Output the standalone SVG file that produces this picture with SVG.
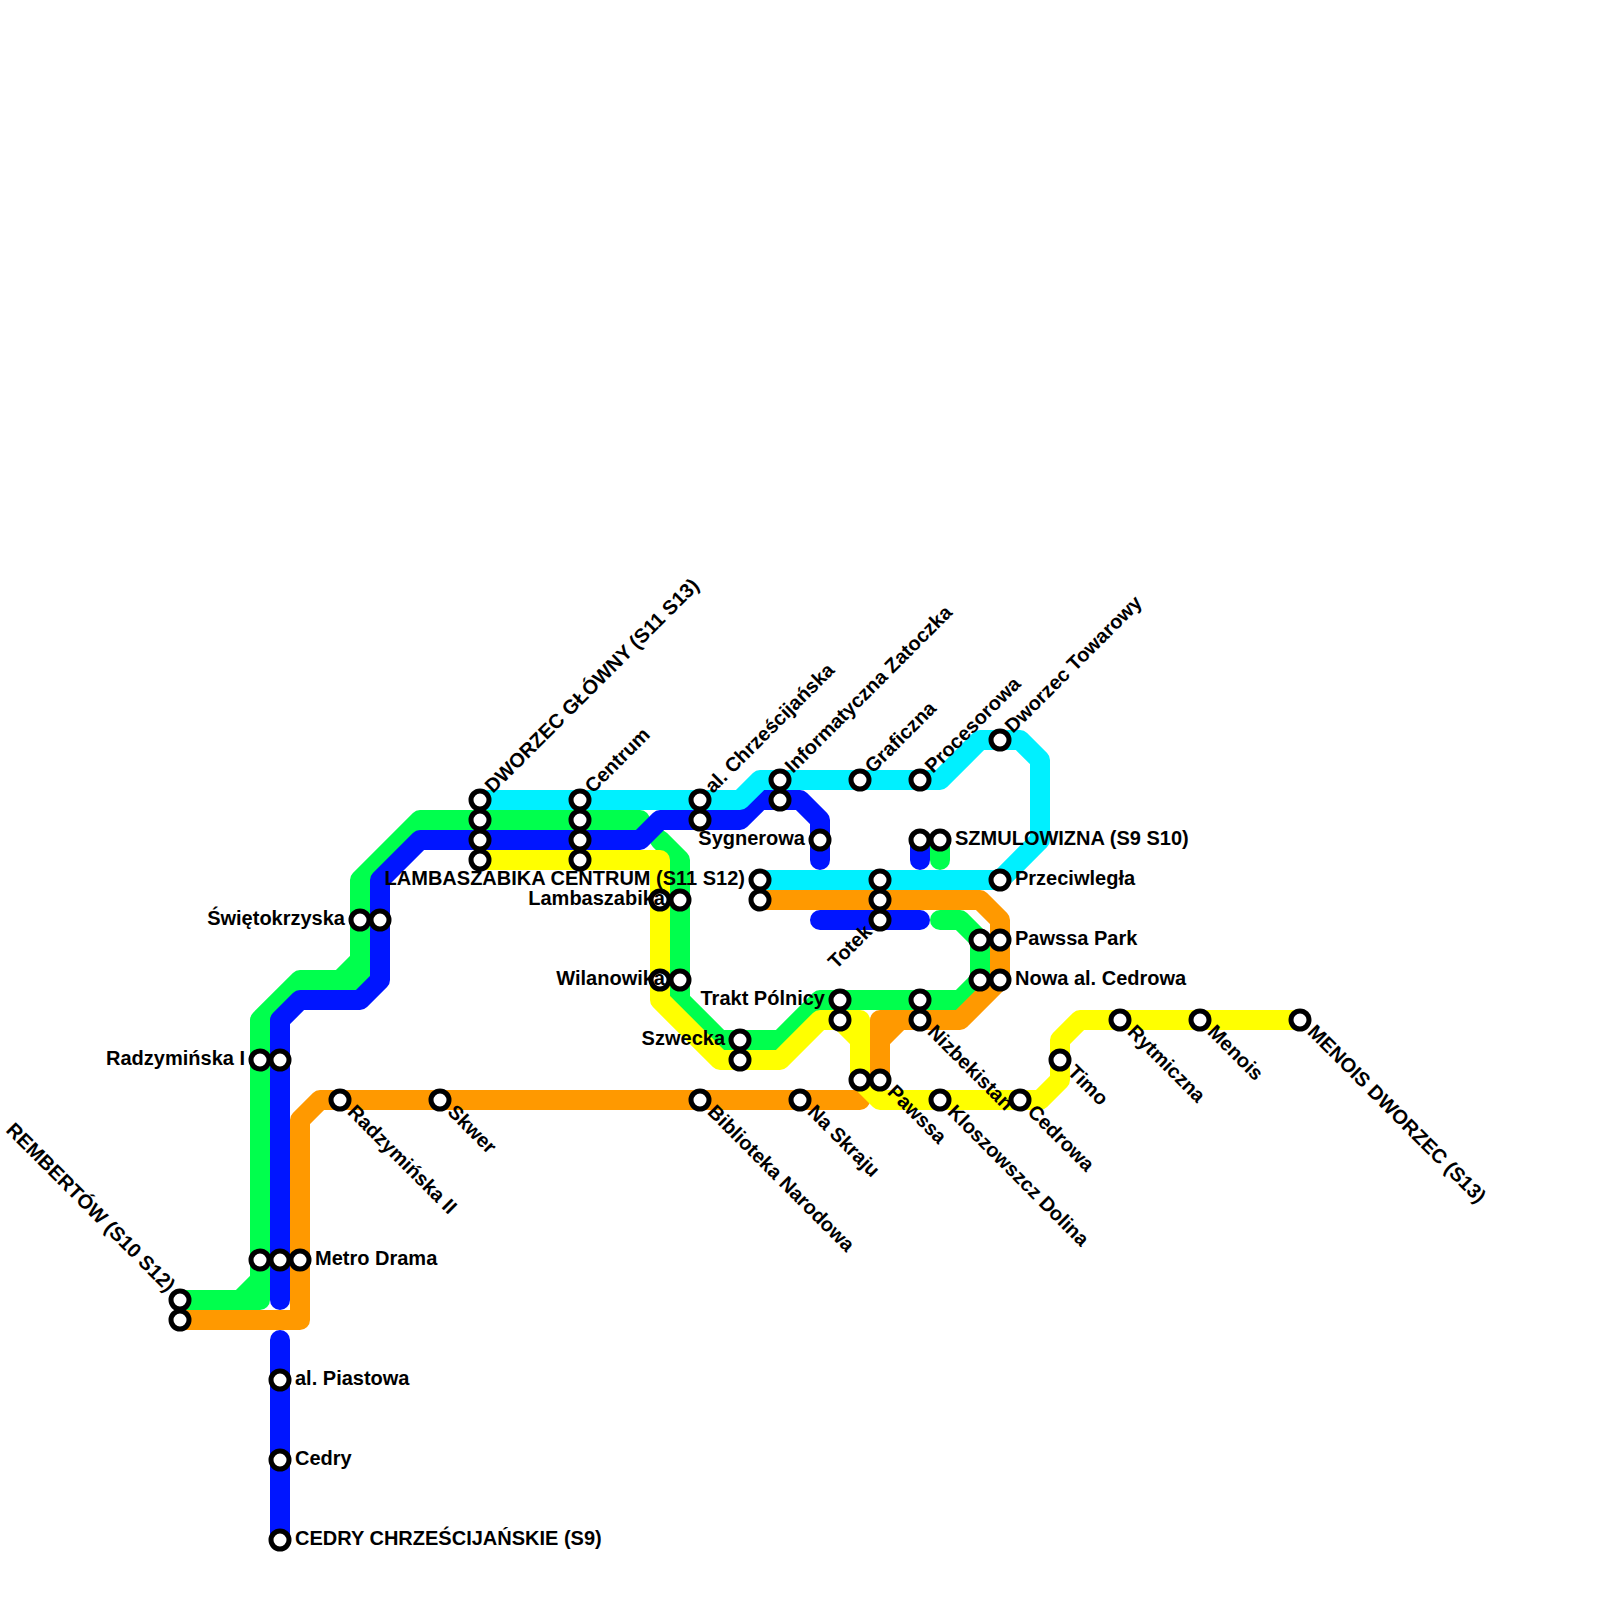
<svg xmlns="http://www.w3.org/2000/svg" width="1600" height="1600" viewBox="0 0 1600 1600">
<style>
.l{fill:none;stroke-width:20;stroke-linecap:round;stroke-linejoin:round}
.g{stroke:#00ff4d}.o{stroke:#ff9900}.b{stroke:#0015ff}.c{stroke:#00f0ff}.y{stroke:#ffff00}
.s{fill:#fff;stroke:#000;stroke-width:5}
text{font-family:"Liberation Sans",Arial,sans-serif;font-weight:700;font-size:20px;fill:#000}
.e{text-anchor:end}
</style>
<rect width="1600" height="1600" fill="#fff"/>
<g id="connectors">
<path class="l g" d="M180 1300H240L260 1280V1020L300 980H340L360 960V880L420 820H640"/>
<path class="l g" d="M240 1300H260V1280M340 980H360V960"/>
<path class="l g" d="M660 840L680 860V1000L720 1040H780L820 1000H960L980 980V940L960 920H940"/>
<path class="l g" d="M940 840V860"/>
<path class="l o" d="M180 1320H300V1120L320 1100H860"/>
<path class="l o" d="M880 1080V1040L900 1020M880 1040V1020H960L1000 980V920L980 900H760"/>
<path class="l b" d="M280 1300V1020L300 1000H360L380 980V880L420 840H640L660 820H740L760 800H800L820 820V860"/>
<path class="l b" d="M280 1340V1540M920 840V860M820 920H920"/>
<path class="l c" d="M480 800H740L760 780H940L980 740H1020L1040 760V840L1000 880H760"/>
<path class="l y" d="M480 860H660V1000L720 1060H780L820 1020H860V1080L880 1100H1040L1060 1080V1040L1080 1020H1300"/>
<path class="l y" d="M840 1020L860 1040"/>
</g>
<g id="stations">
<g id="st-rembertow"><circle class="s" cx="180" cy="1300" r="9"/><circle class="s" cx="180" cy="1320" r="9"/></g>
<g id="st-metro-drama"><circle class="s" cx="260" cy="1260" r="9"/><circle class="s" cx="280" cy="1260" r="9"/><circle class="s" cx="300" cy="1260" r="9"/></g>
<g id="st-radzyminska-1"><circle class="s" cx="260" cy="1060" r="9"/><circle class="s" cx="280" cy="1060" r="9"/></g>
<g id="st-swietokrzyska"><circle class="s" cx="360" cy="920" r="9"/><circle class="s" cx="380" cy="920" r="9"/></g>
<g id="st-dworzec"><circle class="s" cx="480" cy="800" r="9"/><circle class="s" cx="480" cy="820" r="9"/><circle class="s" cx="480" cy="840" r="9"/><circle class="s" cx="480" cy="860" r="9"/></g>
<g id="st-centrum"><circle class="s" cx="580" cy="800" r="9"/><circle class="s" cx="580" cy="820" r="9"/><circle class="s" cx="580" cy="840" r="9"/><circle class="s" cx="580" cy="860" r="9"/></g>
<g id="st-chrzescijanska"><circle class="s" cx="700" cy="800" r="9"/><circle class="s" cx="700" cy="820" r="9"/></g>
<g id="st-informatyczna"><circle class="s" cx="780" cy="780" r="9"/><circle class="s" cx="780" cy="800" r="9"/></g>
<g id="st-graficzna"><circle class="s" cx="860" cy="780" r="9"/></g>
<g id="st-procesorowa"><circle class="s" cx="920" cy="780" r="9"/></g>
<g id="st-dworzec-towarowy"><circle class="s" cx="1000" cy="740" r="9"/></g>
<g id="st-sygnerowa"><circle class="s" cx="820" cy="840" r="9"/></g>
<g id="st-szmulowizna"><circle class="s" cx="920" cy="840" r="9"/><circle class="s" cx="940" cy="840" r="9"/></g>
<g id="st-przeciwlegla"><circle class="s" cx="1000" cy="880" r="9"/></g>
<g id="st-lambaszabika-centrum"><circle class="s" cx="760" cy="880" r="9"/><circle class="s" cx="760" cy="900" r="9"/></g>
<g id="st-totek"><circle class="s" cx="880" cy="880" r="9"/><circle class="s" cx="880" cy="900" r="9"/><circle class="s" cx="880" cy="920" r="9"/></g>
<g id="st-pawssa-park"><circle class="s" cx="980" cy="940" r="9"/><circle class="s" cx="1000" cy="940" r="9"/></g>
<g id="st-nowa"><circle class="s" cx="980" cy="980" r="9"/><circle class="s" cx="1000" cy="980" r="9"/></g>
<g id="st-lambaszabika"><circle class="s" cx="660" cy="900" r="9"/><circle class="s" cx="680" cy="900" r="9"/></g>
<g id="st-wilanowika"><circle class="s" cx="660" cy="980" r="9"/><circle class="s" cx="680" cy="980" r="9"/></g>
<g id="st-trakt"><circle class="s" cx="840" cy="1000" r="9"/><circle class="s" cx="840" cy="1020" r="9"/></g>
<g id="st-nizbekistan"><circle class="s" cx="920" cy="1000" r="9"/><circle class="s" cx="920" cy="1020" r="9"/></g>
<g id="st-szwecka"><circle class="s" cx="740" cy="1040" r="9"/><circle class="s" cx="740" cy="1060" r="9"/></g>
<g id="st-pawssa"><circle class="s" cx="860" cy="1080" r="9"/><circle class="s" cx="880" cy="1080" r="9"/></g>
<g id="st-radzyminska-2"><circle class="s" cx="340" cy="1100" r="9"/></g>
<g id="st-skwer"><circle class="s" cx="440" cy="1100" r="9"/></g>
<g id="st-biblioteka"><circle class="s" cx="700" cy="1100" r="9"/></g>
<g id="st-na-skraju"><circle class="s" cx="800" cy="1100" r="9"/></g>
<g id="st-kloszowszcz"><circle class="s" cx="940" cy="1100" r="9"/></g>
<g id="st-cedrowa"><circle class="s" cx="1020" cy="1100" r="9"/></g>
<g id="st-timo"><circle class="s" cx="1060" cy="1060" r="9"/></g>
<g id="st-rytmiczna"><circle class="s" cx="1120" cy="1020" r="9"/></g>
<g id="st-menois"><circle class="s" cx="1200" cy="1020" r="9"/></g>
<g id="st-menois-dworzec"><circle class="s" cx="1300" cy="1020" r="9"/></g>
<g id="st-piastowa"><circle class="s" cx="280" cy="1380" r="9"/></g>
<g id="st-cedry"><circle class="s" cx="280" cy="1460" r="9"/></g>
<g id="st-cedry-chrz"><circle class="s" cx="280" cy="1540" r="9"/></g>
</g>
<g id="labels">
<text class="e" transform="translate(167,1293) rotate(45)">REMBERTÓW (S10 S12)</text>
<text class="e" x="245" y="1065">Radzymińska I</text>
<text class="e" x="345" y="925">Świętokrzyska</text>
<text x="315" y="1265">Metro Drama</text>
<text x="295" y="1385">al. Piastowa</text>
<text x="295" y="1465">Cedry</text>
<text x="295" y="1545">CEDRY CHRZEŚCIJAŃSKIE (S9)</text>
<text transform="translate(493,794) rotate(-45)">DWORZEC GŁÓWNY (S11 S13)</text>
<text transform="translate(593,794) rotate(-45)">Centrum</text>
<text transform="translate(713,794) rotate(-45)">al. Chrześcijańska</text>
<text transform="translate(793,774) rotate(-45)">Informatyczna Zatoczka</text>
<text transform="translate(873,774) rotate(-45)">Graficzna</text>
<text transform="translate(933,774) rotate(-45)">Procesorowa</text>
<text transform="translate(1013,734) rotate(-45)">Dworzec Towarowy</text>
<text class="e" x="805" y="845">Sygnerowa</text>
<text x="955" y="845">SZMULOWIZNA (S9 S10)</text>
<text x="1015" y="885">Przeciwległa</text>
<text class="e" x="745" y="885">LAMBASZABIKA CENTRUM (S11 S12)</text>
<text class="e" x="665" y="905">Lambaszabika</text>
<text class="e" x="665" y="985">Wilanowika</text>
<text class="e" transform="translate(873,933) rotate(-45)">Totek</text>
<text x="1015" y="945">Pawssa Park</text>
<text x="1015" y="985">Nowa al. Cedrowa</text>
<text class="e" x="825" y="1005">Trakt Pólnicy</text>
<text class="e" x="725" y="1045">Szwecka</text>
<text transform="translate(346.5,1113) rotate(45)">Radzymińska II</text>
<text transform="translate(446.5,1113) rotate(45)">Skwer</text>
<text transform="translate(706.5,1113) rotate(45)">Biblioteka Narodowa</text>
<text transform="translate(806.5,1113) rotate(45)">Na Skraju</text>
<text transform="translate(886.5,1093) rotate(45)">Pawssa</text>
<text transform="translate(946.5,1113) rotate(45)">Kloszowszcz Dolina</text>
<text transform="translate(926.5,1033) rotate(45)">Nizbekistan</text>
<text transform="translate(1026.5,1113) rotate(45)">Cedrowa</text>
<text transform="translate(1066.5,1073) rotate(45)">Timo</text>
<text transform="translate(1126.5,1033) rotate(45)">Rytmiczna</text>
<text transform="translate(1206.5,1033) rotate(45)">Menois</text>
<text transform="translate(1306.5,1033) rotate(45)">MENOIS DWORZEC (S13)</text>
</g>
</svg>
